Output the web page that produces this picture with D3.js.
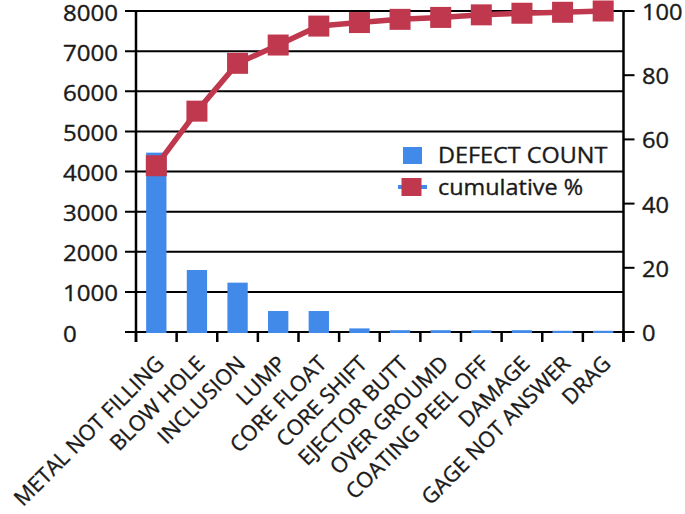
<!DOCTYPE html>
<html><head><meta charset="utf-8">
<script src="https://cdn.jsdelivr.net/npm/d3@7"></script>
<style>
body{margin:0;background:#fff}
svg text{font-family:"Open Sans",sans-serif;fill:#1a1a1a;stroke:#1a1a1a;stroke-width:0.35px}
</style></head>
<body><svg id="c" width="685" height="514"></svg>
<script>
const categories = ["METAL NOT FILLING","BLOW HOLE","INCLUSION","LUMP","CORE FLOAT","CORE SHIFT","EJECTOR BUTT","OVER GROUMD","COATING PEEL OFF","DAMAGE","GAGE NOT ANSWER","DRAG"];
const defectCount = [4470,1545,1230,523,523,90,45,45,45,45,30,30];
const cumulativePct = [51.8,68.8,83.7,89.4,95.3,96.4,97.4,98.0,98.8,99.3,99.6,100];
const leftTicks = [0,1000,2000,3000,4000,5000,6000,7000,8000];
const rightTicks = [0,20,40,60,80,100];
const seriesNames = ["DEFECT COUNT","cumulative %"];

const BLUE = "#418ae9", RED = "#c0384e", FS = 21.5;
const svg = d3.select("#c");
const L = 136, R = 623.5, T = 11, B = 332;

const x = d3.scaleBand().domain(categories).range([L, R]).paddingInner(0.5).paddingOuter(0.25);
const step = x.step();
const cx = d => x(d) + x.bandwidth()/2;
const yL = d3.scaleLinear().domain([0, 8000]).range([B, T]);
const yR = d3.scaleLinear().domain([0, 100]).range([B, T]);

// gridlines (extend left as ticks)
svg.append("g").selectAll("line").data(leftTicks).join("line")
  .attr("x1", L - 11).attr("x2", R).attr("y1", d => yL(d)).attr("y2", d => yL(d))
  .attr("stroke", "#000").attr("stroke-width", 2);

// left labels
svg.append("g").selectAll("text").data(leftTicks).join("text")
  .attr("transform", d => `translate(63,${yL(d) + 9.5}) scale(1.12,1)`)
  .attr("font-size", FS).text(d => d);

// axes lines
svg.append("line").attr("x1", R).attr("x2", R).attr("y1", T).attr("y2", B + 10)
  .attr("stroke", "#000").attr("stroke-width", 2.5);
svg.append("line").attr("x1", L).attr("x2", L).attr("y1", T).attr("y2", B + 10)
  .attr("stroke", "#000").attr("stroke-width", 2.5);
svg.append("g").selectAll("line").data(rightTicks).join("line")
  .attr("x1", R).attr("x2", R + 11).attr("y1", d => yR(d)).attr("y2", d => yR(d))
  .attr("stroke", "#000").attr("stroke-width", 2);
svg.append("g").selectAll("text").data(rightTicks).join("text")
  .attr("transform", d => `translate(642,${yR(d) + 9}) scale(1.1,1)`)
  .attr("font-size", FS).text(d => d);

// bottom ticks at category boundaries
const bounds = categories.map((d, i) => L + i * step).concat([R]);
svg.append("g").selectAll("line").data(bounds).join("line")
  .attr("x1", d => d).attr("x2", d => d).attr("y1", B).attr("y2", B + 10)
  .attr("stroke", "#000").attr("stroke-width", 2.5);

// bars
svg.append("g").selectAll("rect").data(categories).join("rect")
  .attr("x", d => x(d)).attr("width", x.bandwidth())
  .attr("y", (d, i) => yL(defectCount[i]))
  .attr("height", (d, i) => B + 1 - yL(defectCount[i]))
  .attr("fill", BLUE);

// cumulative line
const line = d3.line().x((d, i) => cx(categories[i])).y(d => yR(d));
svg.append("path").datum(cumulativePct).attr("d", line)
  .attr("fill", "none").attr("stroke", RED).attr("stroke-width", 5.5).attr("stroke-linejoin", "round");
svg.append("g").selectAll("rect").data(cumulativePct).join("rect")
  .attr("x", (d, i) => cx(categories[i]) - 10.5).attr("y", d => yR(d) - 10.5)
  .attr("width", 21).attr("height", 21).attr("fill", RED);

// category labels
svg.append("g").selectAll("text").data(categories).join("text")
  .attr("transform", d => `translate(${cx(d) + 9},${B + 33}) rotate(-45)`)
  .attr("text-anchor", "end").attr("font-size", FS).text(d => d);

// legend
const lg = svg.append("g");
lg.append("rect").attr("x", 403).attr("y", 147).attr("width", 19).attr("height", 17).attr("fill", BLUE);
lg.append("text").attr("transform", "translate(438,163) scale(1.09,1)").attr("font-size", FS).text(seriesNames[0]);
lg.append("line").attr("x1", 398).attr("x2", 427).attr("y1", 187).attr("y2", 187)
  .attr("stroke", BLUE).attr("stroke-width", 4);
lg.append("rect").attr("x", 401.5).attr("y", 178).attr("width", 20).attr("height", 18).attr("fill", RED);
lg.append("text").attr("transform", "translate(438,195) scale(1.09,1)").attr("font-size", FS).text(seriesNames[1]);
</script></body></html>
